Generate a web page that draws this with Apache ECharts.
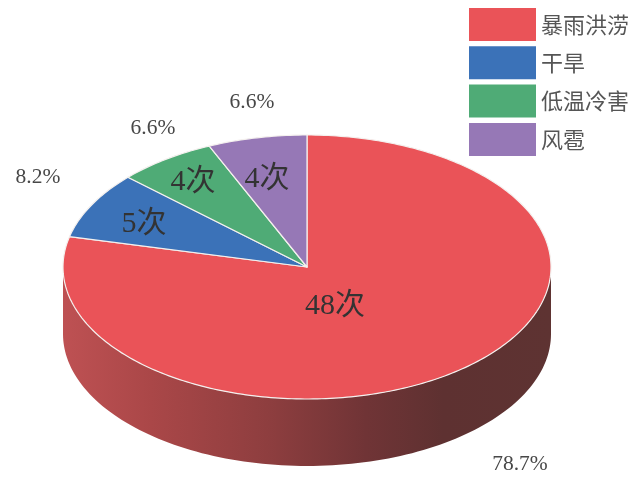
<!DOCTYPE html>
<html><head><meta charset="utf-8">
<style>html,body{margin:0;padding:0;background:#fff}#c{width:633px;height:477px}</style>
<script src="https://cdn.jsdelivr.net/npm/echarts@6/dist/echarts.min.js"></script>
</head><body><div id="c"></div>
<script>
var categories = ['暴雨洪涝', '干旱', '低温冷害', '风雹'];
var counts = [48, 5, 4, 4];
var shareLabels = ['78.7%', '8.2%', '6.6%', '6.6%'];
var countUnit = '次';
var colors = ['#EA5358', '#3B72B8', '#4FAB76', '#9678B6'];

var CX = 307, CY = 267, RX = 244, RY = 132, DEPTH = 67;
var FONT = '"Liberation Serif","Noto Sans CJK SC",serif';
var countPos = [[335, 306], [144, 224], [193, 182], [267, 179]];
var sharePos = [[520, 464], [38, 177], [153, 128], [252, 102]];

var total = counts.reduce(function (a, b) { return a + b; }, 0);
function pt(frac, dy) {
  var a = frac * Math.PI * 2;
  return [CX + RX * Math.sin(a), CY - RY * Math.cos(a) + (dy || 0)];
}
function renderSlice(params, api) {
  var i = params.seriesIndex, s = api.value(0), e = api.value(1), k;
  var children = [];
  if (i === 0) {
    var wall = [];
    for (k = 0; k <= 120; k++) wall.push(pt(0.25 + 0.5 * k / 120, 0));
    for (k = 120; k >= 0; k--) wall.push(pt(0.25 + 0.5 * k / 120, DEPTH));
    children.push({
      type: 'polygon', shape: { points: wall },
      style: { fill: { type: 'linear', x: 0, y: 0, x2: 1, y2: 0, colorStops: [
        { offset: 0, color: '#BE5153' }, { offset: 0.18, color: '#AA4748' },
        { offset: 0.42, color: '#8E3E3F' }, { offset: 0.62, color: '#703436' },
        { offset: 0.78, color: '#5E3131' }, { offset: 1, color: '#5E3332' }
      ] } }
    });
  }
  var pts = [[CX, CY]], n = Math.max(8, Math.ceil((e - s) * 360));
  for (k = 0; k <= n; k++) pts.push(pt(s + (e - s) * k / n));
  children.push({
    type: 'polygon', shape: { points: pts },
    style: { fill: colors[i], stroke: '#F4F0EE', lineWidth: 1.2, lineJoin: 'round' }
  });
  children.push({
    type: 'text', z2: 10,
    style: { text: counts[i] + countUnit, x: countPos[i][0], y: countPos[i][1], align: 'center', verticalAlign: 'middle',
      font: '30px ' + FONT, fill: '#333' }
  });
  children.push({
    type: 'text', z2: 10,
    style: { text: shareLabels[i], x: sharePos[i][0], y: sharePos[i][1], align: 'center', verticalAlign: 'middle',
      font: '21.5px ' + FONT, fill: '#484848' }
  });
  return { type: 'group', children: children };
}
var cum = 0;
var series = categories.map(function (name, i) {
  var start = cum / total;
  cum += counts[i];
  return {
    type: 'custom', name: name, coordinateSystem: 'none', renderItem: renderSlice,
    data: [[start, cum / total]], itemStyle: { color: colors[i] }, silent: true
  };
});
var chart = echarts.init(document.getElementById('c'), null, { renderer: 'canvas' });
chart.setOption({
  animation: false,
  backgroundColor: '#fff',
  legend: {
    orient: 'vertical', left: 469, top: 8, padding: 0,
    itemWidth: 67, itemHeight: 33, itemGap: 5.3, icon: 'rect', selectedMode: false,
    data: categories,
    formatter: '{a|{name}}',
    textStyle: { rich: { a: { fontFamily: FONT, fontSize: 22, color: '#555', padding: [5, 0, 0, 0] } } },
    align: 'left'
  },
  series: series
});
</script></body></html>
